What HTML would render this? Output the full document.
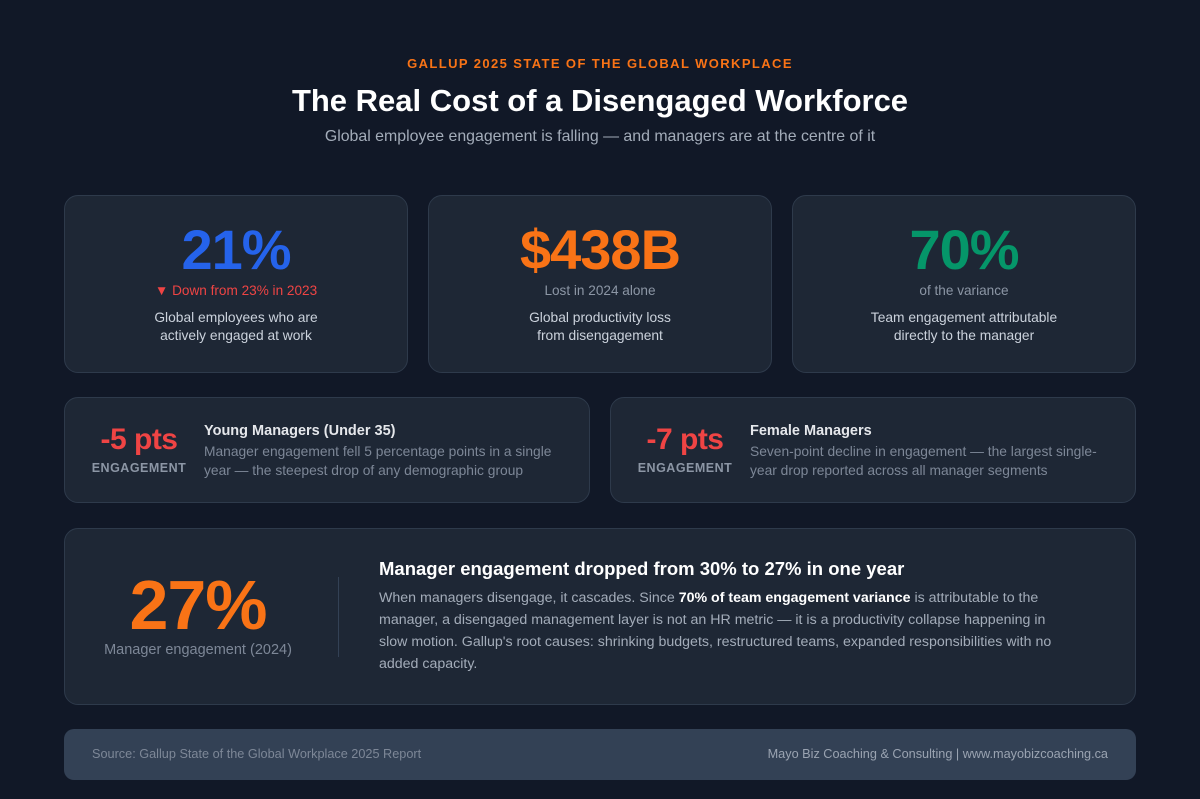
<!DOCTYPE html>
<html><head><meta charset="utf-8"><style>
*{margin:0;padding:0;box-sizing:border-box}
body{width:1200px;height:799px;background:#111827;font-family:"Liberation Sans",sans-serif;position:relative;overflow:hidden;color:#e5e7eb}
.a{position:absolute}
.card{position:absolute;background:#1e2735;border:1px solid #2e3a4b;border-radius:14px}
.c{text-align:center;left:0;right:0}
.big{font-weight:900;font-size:56px;letter-spacing:-1px}
</style></head><body>
<div class="a c" style="top:56px;font-size:13px;font-weight:700;letter-spacing:1.4px;color:#f97316">GALLUP 2025 STATE OF THE GLOBAL WORKPLACE</div>
<div class="a c" style="top:83px;font-size:31px;font-weight:700;color:#fff">The Real Cost of a Disengaged Workforce</div>
<div class="a c" style="top:128px;font-size:15.9px;color:#a3acb9">Global employee engagement is falling — and managers are at the centre of it</div>

<div class="card" style="left:64px;top:195px;width:344px;height:178px">
<div class="a c big" style="top:21px;color:#2563eb">21%</div>
<div class="a c" style="top:87px;font-size:13.6px;color:#ef4444">▼ Down from 23% in 2023</div>
<div class="a c" style="top:113px;font-size:13.8px;line-height:18px;color:#cbd2dc">Global employees who are<br>actively engaged at work</div>
</div>
<div class="card" style="left:428px;top:195px;width:344px;height:178px">
<div class="a c big" style="top:21px;color:#f97316">$438B</div>
<div class="a c" style="top:87px;font-size:13.6px;color:#8c96a5">Lost in 2024 alone</div>
<div class="a c" style="top:113px;font-size:13.8px;line-height:18px;color:#cbd2dc">Global productivity loss<br>from disengagement</div>
</div>
<div class="card" style="left:792px;top:195px;width:344px;height:178px">
<div class="a c big" style="top:21px;color:#059669">70%</div>
<div class="a c" style="top:87px;font-size:13.6px;color:#8c96a5">of the variance</div>
<div class="a c" style="top:113px;font-size:13.8px;line-height:18px;color:#cbd2dc">Team engagement attributable<br>directly to the manager</div>
</div>

<div class="card" style="left:64px;top:397px;width:526px;height:106px">
<div class="a" style="left:14px;width:120px;text-align:center;top:25px;font-size:30px;font-weight:900;color:#ef4444;letter-spacing:-0.5px">-5 pts</div>
<div class="a" style="left:14px;width:120px;text-align:center;top:63px;font-size:12.5px;font-weight:700;letter-spacing:.5px;color:#8c96a5">ENGAGEMENT</div>
<div class="a" style="left:139px;top:25px;font-size:14.5px;font-weight:700;color:#e5e7eb">Young Managers (Under 35)</div>
<div class="a" style="left:139px;top:44px;width:358px;font-size:13.8px;line-height:19px;color:#7d8797">Manager engagement fell 5 percentage points in a single year — the steepest drop of any demographic group</div>
</div>
<div class="card" style="left:610px;top:397px;width:526px;height:106px">
<div class="a" style="left:14px;width:120px;text-align:center;top:25px;font-size:30px;font-weight:900;color:#ef4444;letter-spacing:-0.5px">-7 pts</div>
<div class="a" style="left:14px;width:120px;text-align:center;top:63px;font-size:12.5px;font-weight:700;letter-spacing:.5px;color:#8c96a5">ENGAGEMENT</div>
<div class="a" style="left:139px;top:25px;font-size:14.5px;font-weight:700;color:#e5e7eb">Female Managers</div>
<div class="a" style="left:139px;top:44px;width:358px;font-size:13.8px;line-height:19px;color:#7d8797">Seven-point decline in engagement — the largest single-year drop reported across all manager segments</div>
</div>

<div class="card" style="left:64px;top:528px;width:1072px;height:177px">
<div class="a" style="left:20px;width:226px;text-align:center;top:36px;font-size:70px;font-weight:900;color:#f97316;letter-spacing:-1px">27%</div>
<div class="a" style="left:20px;width:226px;text-align:center;top:113px;font-size:14.5px;color:#7d8797">Manager engagement (2024)</div>
<div class="a" style="left:273px;top:48px;width:1px;height:80px;background:#334155"></div>
<div class="a" style="left:314px;top:29px;font-size:18.5px;font-weight:700;color:#fff">Manager engagement dropped from 30% to 27% in one year</div>
<div class="a" style="left:314px;top:58px;width:690px;font-size:14.2px;line-height:22px;color:#a3acb9">When managers disengage, it cascades. Since <b style="color:#fff">70% of team engagement variance</b> is attributable to the manager, a disengaged management layer is not an HR metric — it is a productivity collapse happening in slow motion. Gallup's root causes: shrinking budgets, restructured teams, expanded responsibilities with no added capacity.</div>
</div>

<div class="a" style="left:64px;top:729px;width:1072px;height:51px;background:#334155;border-radius:10px">
<div class="a" style="left:28px;top:18px;font-size:12.7px;color:#7d8797">Source: Gallup State of the Global Workplace 2025 Report</div>
<div class="a" style="right:28px;top:18px;font-size:12.7px;color:#9aa3b1">Mayo Biz Coaching &amp; Consulting | www.mayobizcoaching.ca</div>
</div>
</body></html>
